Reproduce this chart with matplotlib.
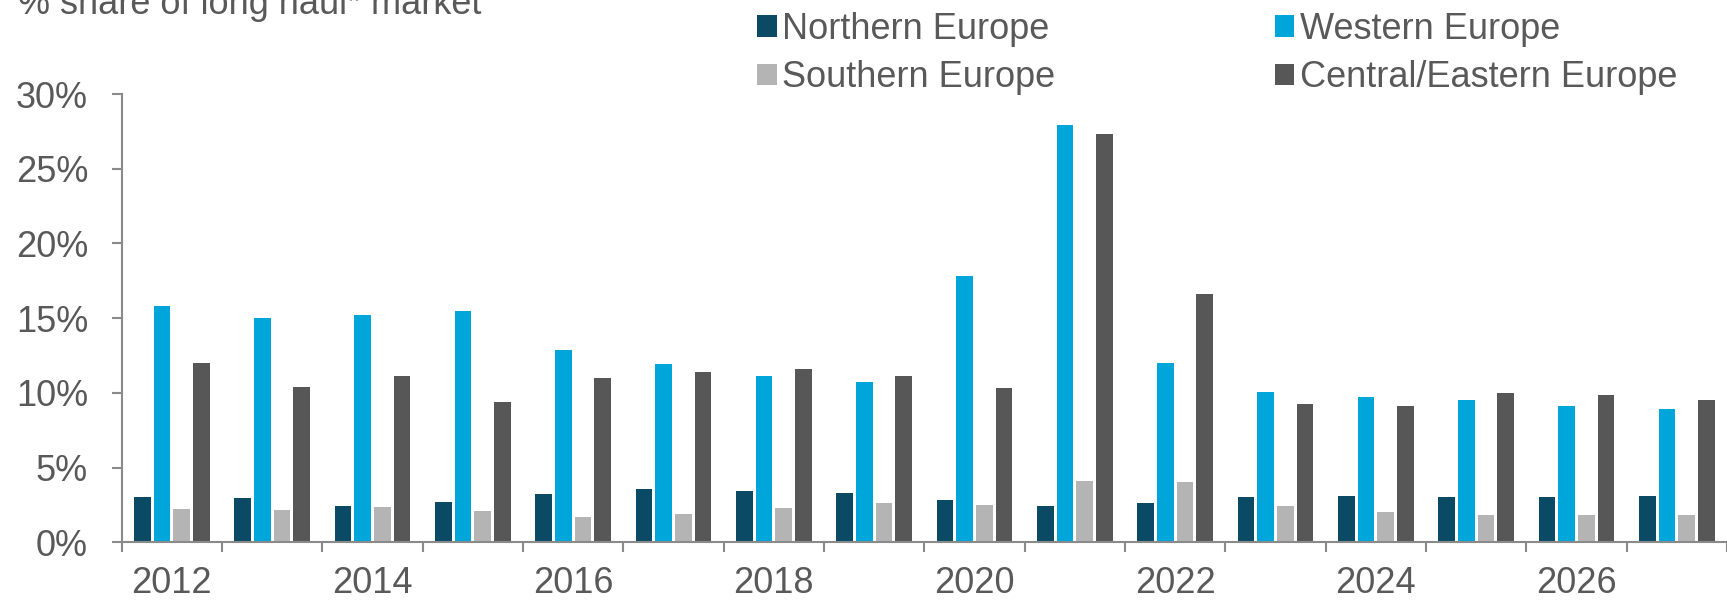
import matplotlib
matplotlib.use("Agg")
import matplotlib.pyplot as plt
from matplotlib.patches import Patch
import numpy as np

plt.rcParams['font.family'] = ['Liberation Sans', 'DejaVu Sans']

years = list(range(2012, 2028))
northern = [3.0, 2.95, 2.45, 2.7, 3.25, 3.55, 3.4, 3.3, 2.8, 2.45, 2.6, 3.0, 3.1, 3.0, 3.0, 3.1]
western = [15.8, 15.0, 15.2, 15.5, 12.85, 11.9, 11.15, 10.7, 17.8, 27.9, 12.0, 10.05, 9.7, 9.55, 9.1, 8.9]
southern = [2.2, 2.15, 2.35, 2.1, 1.7, 1.9, 2.3, 2.6, 2.5, 4.1, 4.05, 2.45, 2.05, 1.85, 1.85, 1.8]
central = [12.0, 10.4, 11.1, 9.4, 11.0, 11.4, 11.6, 11.15, 10.35, 27.35, 16.6, 9.25, 9.1, 10.0, 9.85, 9.5]

series_names = ["Northern Europe", "Western Europe", "Southern Europe", "Central/Eastern Europe"]
series_values = [northern, western, southern, central]
colors = ["#0A4A64", "#00A6DA", "#B4B4B4", "#575757"]
y_ticks = [0, 5, 10, 15, 20, 25, 30]
title = "% share of long haul* market"

TEXT = "#595959"
AXIS = "#8A8A8A"
FS = 26

W, H = 1727, 601
fig = plt.figure(figsize=(W / 100, H / 100), dpi=100)
ax = fig.add_axes([121.7 / W, 1 - 542.3 / H, 1 - 121.7 / W, (542.3 - 94) / H])

x = np.arange(len(years))
step = 0.196
handles = []
for k, (name, vals, col) in enumerate(zip(series_names, series_values, colors)):
    ax.bar(x + (k - 1.5) * step, vals, width=0.165, color=col, label=name, zorder=2)
    handles.append(Patch(facecolor=col, label=name))

ax.set_ylim(0, 30)
ax.set_xlim(-0.5, 15.3)
ax.set_yticks(y_ticks)
ax.set_yticklabels([f"{v}%" for v in y_ticks])

# group boundaries carry the tick marks; labels sit under every other group
ax.set_xticks(np.arange(-0.5, len(years) + 0.5, 1.0))
ax.set_xticklabels([])
ax.set_xticks(x[::2], minor=True)
ax.set_xticklabels([str(y) for y in years[::2]], minor=True)

for s in ("top", "right"):
    ax.spines[s].set_visible(False)
for s in ("left", "bottom"):
    ax.spines[s].set_color(AXIS)
    ax.spines[s].set_linewidth(1.5)

ax.tick_params(axis="y", which="major", direction="out", length=7.2, width=1.5,
               color=AXIS, labelcolor=TEXT, labelsize=FS, pad=17)
ax.tick_params(axis="x", which="major", direction="out", length=7.2, width=1.5, color=AXIS)
ax.tick_params(axis="x", which="minor", length=0, labelcolor=TEXT, labelsize=FS, pad=17)

fig.text(18 / W, 1 - 14 / H, title, color=TEXT, fontsize=FS, va="baseline", ha="left")

order = [0, 2, 1, 3]
fig.legend([handles[i] for i in order], [series_names[i] for i in order],
           ncol=2, loc="upper left", bbox_to_anchor=(757 / W, 1 - 11.6 / H),
           frameon=False, fontsize=FS, labelcolor=TEXT,
           handlelength=0.54, handleheight=0.54, handletextpad=0.15,
           columnspacing=6.09, labelspacing=0.38, borderaxespad=0, borderpad=0)

fig.savefig("out.png", dpi=100)
